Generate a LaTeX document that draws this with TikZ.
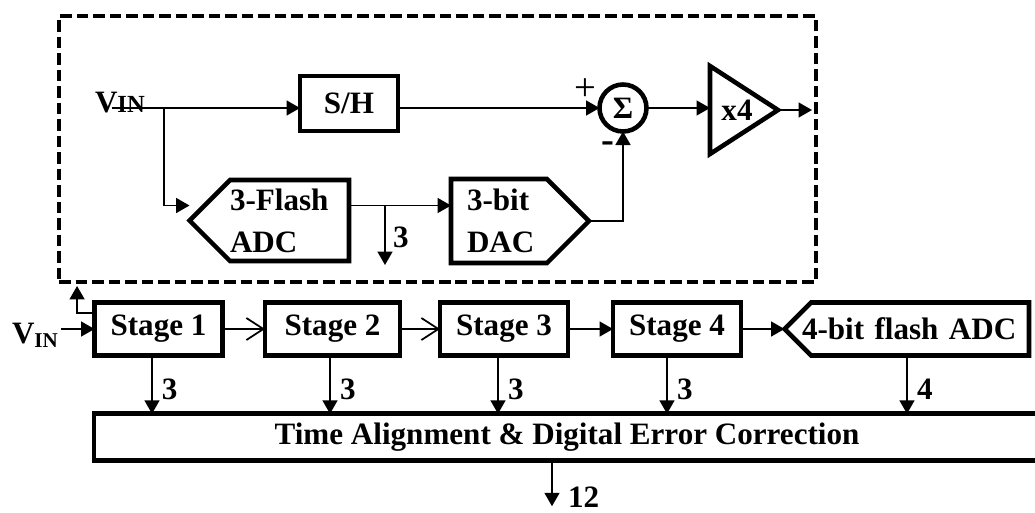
\documentclass[tikz,border=0pt]{standalone}
\usepackage{fontspec}
\setmainfont{Liberation Serif}
\usetikzlibrary{arrows.meta,shapes.symbols}

\begin{document}
\begin{tikzpicture}[x=0.02cm, y=-0.02cm,
  every node/.style={font=\bfseries\fontsize{17.7}{24}\selectfont, inner sep=0pt, outer sep=0pt},
  blk/.style={draw, line width=2.6pt},
  adc/.style={blk, signal, signal pointer angle=90, align=left},
  wire/.style={line width=1pt},
  fwd/.style={wire, -{Triangle[length=0.27cm, width=0.3cm]}},
  opn/.style={wire, -{Straight Barb[length=0.34cm, width=0.44cm]}}]
\useasboundingbox (0,0) rectangle (1035,512);
\clip (0,0) rectangle (1035,512);

\node[draw, line width=2.6pt, dash pattern=on 6.6pt off 2.8pt, minimum width=15.14cm, minimum height=5.32cm] (stg) at (437.5,149) {};

\node[anchor=base west] (vi) at (95,112) {V{\fontsize{14}{14}\selectfont IN}};
\coordinate (vs) at (112,108);
\coordinate (br1) at (164,108);
\node[blk, minimum width=1.96cm, minimum height=1.1cm] (sh) at (349,103.5) {S/H};
\node[blk, circle, minimum size=0.94cm] (sum) at (623,108) {Σ};
\node[font=\mdseries\fontsize{22}{22}\selectfont] (plus) at (585,90) {+};
\node[font=\bfseries\fontsize{22}{22}\selectfont] (minus) at (608,147) {-};
\node (amp) at (737,110) {x4};
\draw[blk, line join=miter] (710,66) -- (778,110) coordinate (amptip) -- (710,154) -- cycle;
\coordinate (ampin) at (710,108);
\node[adc, signal to=west, text width=2.38cm, minimum height=1.62cm] (fl) at (289.5,220.5) {3-Flash\\ADC};
\node[adc, signal to=east, text width=1.28cm, inner xsep=0.32cm, minimum height=1.68cm] (dac) at (499,221) {3-bit\\DAC};
\coordinate (br2) at (385,206);

\draw[fwd] (vs) -- (vs -| sh.west);
\draw[fwd] (br1) |- ([yshift=0.3cm]fl.west);
\draw[fwd] (sh.east |- sum) -- (sum);
\draw[fwd] (dac.east) -| (sum);
\draw[fwd] (sum) -- (ampin);
\draw[fwd] (amptip) -- ++(34,0);
\draw[fwd] ([yshift=0.3cm]fl.east) -- ([yshift=0.3cm]fl.east -| dac.west);
\draw[fwd] (br2) -- ++(0,59) node[pos=0.71, anchor=base west, xshift=0.16cm] {3};

\node[anchor=base west] (vin) at (12,343) {V\raisebox{-2.3pt}{\fontsize{12}{12}\selectfont IN}};
\node[blk, minimum width=2.56cm, minimum height=1.05cm] (s1) at (158.5,329) {Stage 1};
\node[blk, minimum width=2.7cm, minimum height=1.05cm] (s2) at (332.5,329) {Stage 2};
\node[blk, minimum width=2.56cm, minimum height=1.05cm] (s3) at (504,329) {Stage 3};
\node[blk, minimum width=2.56cm, minimum height=1.05cm] (s4) at (677,329) {Stage 4};
\node[adc, signal to=west, text width=4.36cm, minimum height=1.06cm] (fadc) at (920,329) {\hspace*{-0.18cm}4-bit flash ADC};
\node[blk, minimum width=18.92cm, minimum height=0.93cm] (dec) at (567,437) {Time Alignment \& Digital Error Correction};

\draw[fwd, shorten <=2pt] (vin.east |- s1.west) -- (s1.west);
\draw[fwd] ([yshift=0.32cm]s1.west) -| ([xshift=0.36cm, yshift=-0.08cm]stg.south west);
\draw[opn] (s1) -- (s2);
\draw[opn] (s2) -- (s3);
\draw[fwd] (s3) -- (s4);
\draw[fwd] (s4) -- (fadc);
\foreach \n/\d/\b in {s1/-0.13/3, s2/-0.05/3, s3/-0.12/3, s4/-0.2/3, fadc/-0.26/4}
  \draw[fwd] ([xshift=\d cm]\n.south) -- ([xshift=\d cm]\n.south |- dec.north) node[pos=0.75, anchor=base west, xshift=0.2cm] {\b};
\draw[fwd] ([xshift=-0.3cm]dec.south) -- ++(0,46) node[anchor=base west, xshift=0.32cm, yshift=-0.02cm] {12};
\end{tikzpicture}
\end{document}
